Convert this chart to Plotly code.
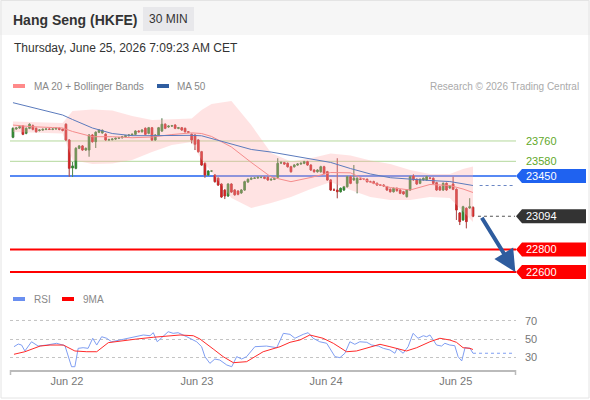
import plotly.graph_objects as go

W, H = 590, 400

# 30 MIN candles (Jun 19 night session -> Jun 25 midday)
opens = [23793, 23866, 23875, 23892, 23828, 23872, 23895, 23872, 23853, 23857,
         23863, 23866, 23863, 23866, 23872, 23863, 23908, 23769, 23521, 23518,
         23695, 23716, 23680, 23680, 23813, 23754, 23837, 23831, 23819, 23769,
         23772, 23777, 23784, 23789, 23798, 23807, 23813, 23819, 23848, 23842,
         23872, 23828, 23877, 23769, 23813, 23848, 23908, 23884, 23892, 23901,
         23872, 23877, 23872, 23842, 23819, 23813, 23769, 23665, 23562, 23459,
         23494, 23459, 23430, 23379, 23326, 23273, 23379, 23326, 23317, 23300,
         23326, 23397, 23421, 23430, 23432, 23438, 23438, 23438, 23415, 23421,
         23438, 23565, 23568, 23562, 23532, 23532, 23547, 23556, 23562, 23577,
         23547, 23503, 23488, 23488, 23532, 23488, 23415, 23326, 23326, 23311,
         23326, 23355, 23444, 23415, 23385, 23423, 23421, 23421, 23400, 23400,
         23385, 23370, 23370, 23355, 23332, 23311, 23341, 23326, 23311, 23267,
         23326, 23450, 23421, 23385, 23415, 23415, 23432, 23430, 23391, 23355,
         23326, 23385, 23344, 23379, 23332, 23123, 23061, 23164, 23167, 23173]
highs = [23880, 23884, 23895, 23900, 23880, 23916, 23905, 23880, 23866, 23870,
         23872, 23874, 23872, 23878, 23878, 23868, 23916, 23775, 23574, 23705,
         23724, 23724, 23702, 23820, 23822, 23845, 23866, 23862, 23828, 23780,
         23784, 23790, 23796, 23805, 23813, 23820, 23826, 23855, 23855, 23864,
         23880, 23884, 23884, 23820, 23884, 23960, 23916, 23900, 23902, 23908,
         23884, 23884, 23878, 23848, 23826, 23820, 23776, 23672, 23570, 23500,
         23503, 23466, 23438, 23386, 23334, 23386, 23386, 23334, 23324, 23334,
         23408, 23428, 23437, 23440, 23446, 23446, 23446, 23446, 23428, 23434,
         23607, 23580, 23575, 23570, 23540, 23555, 23563, 23570, 23584, 23584,
         23554, 23510, 23510, 23540, 23540, 23495, 23422, 23340, 23607, 23348,
         23362, 23452, 23452, 23547, 23438, 23430, 23428, 23428, 23408, 23408,
         23392, 23378, 23378, 23362, 23340, 23348, 23348, 23334, 23318, 23334,
         23452, 23465, 23428, 23428, 23437, 23452, 23440, 23437, 23398, 23362,
         23392, 23392, 23370, 23444, 23340, 23130, 23186, 23172, 23253, 23180]
lows = [23785, 23860, 23868, 23812, 23820, 23865, 23855, 23835, 23845, 23850,
        23856, 23857, 23856, 23860, 23855, 23846, 23760, 23444, 23441, 23510,
        23688, 23672, 23672, 23621, 23745, 23698, 23830, 23825, 23762, 23762,
        23765, 23770, 23777, 23782, 23790, 23800, 23806, 23812, 23835, 23835,
        23812, 23820, 23760, 23762, 23806, 23840, 23865, 23876, 23885, 23865,
        23865, 23850, 23835, 23830, 23739, 23680, 23658, 23540, 23435, 23450,
        23485, 23392, 23362, 23256, 23246, 23266, 23300, 23276, 23280, 23292,
        23318, 23390, 23414, 23424, 23426, 23430, 23422, 23408, 23408, 23414,
        23430, 23556, 23548, 23525, 23480, 23525, 23540, 23550, 23555, 23540,
        23495, 23480, 23480, 23480, 23466, 23408, 23318, 23318, 23253, 23304,
        23318, 23348, 23378, 23408, 23297, 23414, 23414, 23392, 23392, 23378,
        23363, 23362, 23355, 23318, 23304, 23304, 23312, 23290, 23284, 23260,
        23318, 23408, 23372, 23378, 23408, 23408, 23422, 23378, 23318, 23318,
        23318, 23318, 23336, 23325, 23061, 23016, 23054, 22987, 23160, 23086]
closes = [23872, 23875, 23886, 23819, 23872, 23908, 23863, 23842, 23857, 23863,
          23866, 23863, 23866, 23872, 23863, 23854, 23769, 23518, 23539, 23695,
          23716, 23680, 23695, 23813, 23754, 23837, 23857, 23854, 23769, 23772,
          23777, 23784, 23789, 23798, 23807, 23813, 23819, 23848, 23842, 23857,
          23819, 23877, 23769, 23813, 23877, 23908, 23872, 23892, 23895, 23872,
          23877, 23857, 23842, 23837, 23769, 23731, 23665, 23547, 23459, 23494,
          23494, 23400, 23370, 23264, 23273, 23379, 23308, 23284, 23288, 23326,
          23400, 23421, 23430, 23432, 23438, 23438, 23430, 23415, 23421, 23426,
          23562, 23568, 23556, 23532, 23488, 23547, 23556, 23562, 23577, 23547,
          23503, 23488, 23503, 23532, 23474, 23415, 23326, 23326, 23311, 23341,
          23355, 23444, 23385, 23430, 23430, 23421, 23421, 23400, 23400, 23385,
          23370, 23370, 23362, 23326, 23311, 23341, 23320, 23297, 23291, 23326,
          23444, 23415, 23379, 23421, 23430, 23444, 23430, 23385, 23326, 23326,
          23385, 23326, 23362, 23332, 23149, 23046, 23178, 23046, 23178, 23094]

day_labels = ["Jun 22", "Jun 23", "Jun 24", "Jun 25"]
day_pos = [16.3, 55.6, 94.6, 133.8]

# moving averages / bollinger bands, sampled along the candles
ma_idx = [0, 6, 12, 15, 18, 24, 30, 36, 42, 48, 54, 57, 60, 66, 72, 78, 84,
          90, 96, 102, 108, 114, 120, 126, 132, 136, 139]
ma50 = [24099, 24056, 24013, 23990, 23950, 23875, 23826, 23807, 23807, 23810,
        23810, 23806, 23782, 23729, 23685, 23662, 23631, 23606, 23570, 23516,
        23468, 23435, 23420, 23410, 23401, 23384, 23366]
ma20 = [23901, 23886, 23879, 23875, 23844, 23798, 23798, 23789, 23795, 23817,
        23832, 23826, 23800, 23707, 23570, 23441, 23400, 23437, 23481, 23478,
        23394, 23348, 23326, 23375, 23366, 23335, 23304]
bb_up = [23932, 23928, 23923, 23919, 24025, 24039, 24030, 23981, 23946, 23954,
         23959, 24034, 24087, 24114, 23901, 23654, 23578, 23607, 23649, 23631,
         23587, 23556, 23503, 23468, 23468, 23512, 23534]
bb_low = [23839, 23835, 23831, 23826, 23592, 23556, 23561, 23592, 23662, 23724,
          23751, 23592, 23485, 23255, 23167, 23211, 23264, 23335, 23397, 23326,
          23264, 23238, 23238, 23264, 23255, 23131, 23043]

rsi_idx = [0.3, 1.6, 2.6, 3.6, 5.6, 7.6, 10.2, 13.2, 15.7, 16.7, 17.7, 18.7,
           19.7, 21.2, 22.7, 24.1, 25.3, 26.8, 28.3, 29.8, 32.3, 36.3, 39.4,
           41.4, 42.4, 43.6, 45.4, 46.9, 48.4, 49.9, 52.5, 55.5, 57.0, 58.0,
           59.5, 61.0, 62.5, 64.6, 66.1, 67.6, 69.1, 70.6, 73.1, 76.6, 79.7,
           81.7, 83.7, 85.2, 87.7, 89.2, 90.7, 92.7, 94.8, 97.3, 98.8, 100.3,
           101.8, 103.3, 104.8, 106.9, 108.4, 110.4, 111.9, 113.9, 115.4, 116.1,
           117.9, 119.4, 120.9, 122.4, 124.0, 125.0, 126.0, 128.0, 129.5, 130.5,
           132.0, 133.5, 134.5, 135.6, 136.6, 138.1, 139.0]
rsi = [41.6, 44.5, 43.4, 36.9, 47.0, 42.3, 43.4, 45.3, 42.7, 30.7, 19.7, 19.7,
       39.8, 40.5, 39.8, 50.8, 43.4, 52.5, 50.8, 47.0, 48.9, 51.4, 54.4, 53.6,
       56.9, 47.0, 52.5, 58.0, 56.2, 56.9, 52.5, 47.0, 41.6, 30.7, 23.4, 28.1,
       27.0, 21.6, 19.7, 30.7, 28.1, 30.7, 41.6, 42.3, 40.5, 56.2, 55.1, 50.8,
       55.1, 56.9, 50.8, 47.0, 45.3, 30.7, 29.6, 34.4, 47.0, 44.2, 47.0, 46.4,
       43.4, 42.3, 39.8, 38.0, 34.4, 39.8, 34.4, 41.6, 56.2, 50.8, 53.6, 52.5,
       54.4, 43.4, 42.3, 45.3, 43.4, 42.7, 30.7, 26.0, 40.5, 39.8, 34.4]
ma9_idx = [0.3, 3.6, 8.2, 11.2, 15.2, 17.2, 18.7, 22.3, 25.3, 28.8, 32.3, 37.4,
           42.4, 46.4, 50.5, 54.5, 56.5, 60.5, 63.5, 66.6, 70.6, 75.6, 80.7,
           83.7, 86.7, 89.7, 93.7, 96.8, 100.8, 103.8, 107.9, 110.9, 113.9,
           116.9, 118.9, 122.0, 126.0, 129.0, 132.0, 134.0, 136.0, 138.1, 139.0]
ma9 = [33.3, 36.1, 42.3, 43.4, 43.4, 39.8, 36.9, 36.1, 36.1, 46.0, 47.8, 50.0,
       51.9, 53.3, 54.4, 53.6, 50.0, 39.1, 30.7, 24.1, 25.2, 36.1, 41.6, 46.4,
       48.9, 54.4, 50.8, 45.3, 36.1, 36.9, 41.6, 44.2, 41.6, 38.7, 36.9, 40.5,
       47.0, 50.8, 48.9, 46.4, 40.5, 39.8, 38.5]

resistances = [23760, 23580]
pivot = 23450
supports = [22800, 22600]


def px(x):
    return x / W


def py(y):
    return 1 - y / H


X0, X1 = -0.9, 152.0
Y0, Y1 = 22503, 24167
R0, R1 = 16.1, 87.2
n = len(closes)
last = closes[-1]
hh = 7 * (Y1 - Y0) / 188.0   # half height of the price tags

fig = go.Figure()

# bollinger band + MAs
fig.add_trace(go.Scatter(x=ma_idx, y=bb_up, mode='lines', line=dict(width=0),
                         hoverinfo='skip'))
fig.add_trace(go.Scatter(x=ma_idx, y=bb_low, mode='lines', line=dict(width=0),
                         fill='tonexty', fillcolor='rgba(255,170,170,0.33)',
                         hoverinfo='skip'))
fig.add_trace(go.Scatter(x=ma_idx, y=ma20, mode='lines',
                         line=dict(color='#f58c8c', width=1)))
fig.add_trace(go.Scatter(x=ma_idx, y=ma50, mode='lines',
                         line=dict(color='#5b7bbd', width=1)))

# candles: grey wicks underneath, coloured bodies on top
fig.add_trace(go.Candlestick(
    x=list(range(n)), open=opens, high=highs, low=lows, close=closes,
    increasing=dict(line=dict(color='#8c8c8c', width=1), fillcolor='#2f8a2f'),
    decreasing=dict(line=dict(color='#8c8c8c', width=1), fillcolor='#d42424'),
    whiskerwidth=0))
fig.add_trace(go.Candlestick(
    x=list(range(n)), open=opens, high=highs, low=lows, close=closes,
    increasing=dict(line=dict(color='#2f8a2f', width=0.6), fillcolor='#2f8a2f'),
    decreasing=dict(line=dict(color='#d42424', width=0.6), fillcolor='#d42424'),
    whiskerwidth=0))

# RSI panel
fig.add_trace(go.Scatter(x=rsi_idx, y=rsi, mode='lines', xaxis='x2', yaxis='y2',
                         line=dict(color='#7f9ef2', width=1)))
fig.add_trace(go.Scatter(x=ma9_idx, y=ma9, mode='lines', xaxis='x2', yaxis='y2',
                         line=dict(color='#ff2a2a', width=1)))

shapes = []
# header band and frame
shapes.append(dict(type='rect', xref='paper', yref='paper', x0=0, x1=1,
                   y0=py(35), y1=1, fillcolor='#f6f6f6', line_width=0, layer='below'))
shapes.append(dict(type='rect', xref='paper', yref='paper', x0=px(143), x1=px(194),
                   y0=py(31), y1=py(7), fillcolor='#e8e8eb', line_width=0, layer='below'))
shapes.append(dict(type='rect', xref='paper', yref='paper', x0=px(1), x1=px(589),
                   y0=py(398), y1=py(0.5), line=dict(color='#e4e4e4', width=1)))

# level lines
for lv in resistances:
    shapes.append(dict(type='line', xref='x', yref='y', x0=X0, x1=X1, y0=lv, y1=lv,
                       line=dict(color='#b4d89c', width=1), layer='below'))
shapes.append(dict(type='line', xref='x', yref='y', x0=X0, x1=X1, y0=pivot, y1=pivot,
                   line=dict(color='#1f62f0', width=1.3), layer='below'))
for lv in supports:
    shapes.append(dict(type='line', xref='x', yref='y', x0=X0, x1=X1, y0=lv, y1=lv,
                       line=dict(color='#ff0000', width=2)))

# dotted continuations
shapes.append(dict(type='line', xref='x', yref='y', x0=ma_idx[-1] + 2, x1=X1 - 0.3,
                   y0=ma50[-1], y1=ma50[-1], line=dict(color='#6a86c4', width=1.2, dash='dot')))
shapes.append(dict(type='line', xref='x', yref='y', x0=n + 0.5, x1=X1 - 0.3,
                   y0=last, y1=last, line=dict(color='#555555', width=1.2, dash='dot')))
shapes.append(dict(type='line', xref='x2', yref='y2', x0=rsi_idx[-1], x1=X1 - 0.3,
                   y0=rsi[-1], y1=rsi[-1], line=dict(color='#7f9ef2', width=1.2, dash='dot')))

# price tags on the right
tags = [(pivot, '#1f62f0'), (last, '#333333'), (supports[0], '#ff0000'), (supports[1], '#ff0000')]
for val, col in tags:
    path = (f"M {px(516)},{val} L {px(522)},{val + hh} L {px(586)},{val + hh} "
            f"L {px(586)},{val - hh} L {px(522)},{val - hh} Z")
    shapes.append(dict(type='path', xref='paper', yref='y', path=path,
                       fillcolor=col, line_width=0))

# RSI axis end ticks
for xe in (10.5, 515.5):
    shapes.append(dict(type='line', xref='paper', yref='paper', x0=px(xe), x1=px(xe),
                       y0=py(370), y1=py(375), line=dict(color='#bbbbbb', width=1.5)))

# legend swatches
for x0s, y0s, col in [(13, 86, '#ff8a8a'), (157, 86, '#2f5da0'),
                      (13, 299, '#6a8ff0'), (62, 299, '#ff0000')]:
    shapes.append(dict(type='rect', xref='paper', yref='paper', x0=px(x0s), x1=px(x0s + 12),
                       y0=py(y0s + 2), y1=py(y0s - 2), fillcolor=col, line_width=0))

ann = []


def txt(x, y, s, size, color, anchor='left', bold=False):
    ann.append(dict(xref='paper', yref='paper', x=px(x), y=py(y), text=f"<b>{s}</b>" if bold else s,
                    showarrow=False, xanchor=anchor, yanchor='middle',
                    font=dict(size=size, color=color)))


txt(11, 20, "Hang Seng (HKFE)", 14, '#333333', bold=True)
txt(168.5, 19.5, "30 MIN", 12, '#333333', anchor='center')
txt(12, 48.5, "Thursday, June 25, 2026 7:09:23 AM CET", 12, '#333333')
txt(32, 86.5, "MA 20 + Bollinger Bands", 10, '#888888')
txt(175, 86.5, "MA 50", 10, '#888888')
txt(581, 86.5, "Research © 2026 Trading Central", 10, '#aaaaaa', anchor='right')
txt(32, 299.5, "RSI", 10, '#888888')
txt(81, 299.5, "9MA", 10, '#888888')

for lv in resistances:
    ann.append(dict(xref='paper', yref='y', x=px(524), y=lv, text=str(lv), showarrow=False,
                    xanchor='left', yanchor='middle', font=dict(size=11, color='#5fa82a')))
for val, col in tags:
    ann.append(dict(xref='paper', yref='y', x=px(524), y=val, text=str(val), showarrow=False,
                    xanchor='left', yanchor='middle', font=dict(size=11, color='white')))

# target arrow
ann.append(dict(xref='x', yref='y', axref='x', ayref='y', x=n + 11.8, y=supports[1],
                ax=n + 1.4, ay=last, text='', showarrow=True, arrowhead=2,
                arrowsize=1.1, arrowwidth=4, arrowcolor='#2e5c9e'))

fig.update_layout(
    width=W, height=H, margin=dict(l=0, r=0, t=0, b=0),
    paper_bgcolor='white', plot_bgcolor='rgba(0,0,0,0)',
    font=dict(family='Liberation Sans, Arial, sans-serif', color='#777777'),
    showlegend=False, hovermode=False,
    shapes=shapes, annotations=ann,
    xaxis=dict(domain=[px(10), px(516)], range=[X0, X1], visible=False,
               rangeslider=dict(visible=False), anchor='y'),
    yaxis=dict(domain=[py(283), py(95)], range=[Y0, Y1], visible=False, anchor='x'),
    xaxis2=dict(domain=[px(10), px(516)], range=[X0, X1], anchor='y2',
                showline=True, linecolor='#bbbbbb', linewidth=2, showgrid=False,
                zeroline=False, ticks='', tickvals=day_pos, ticktext=day_labels,
                tickfont=dict(size=11, color='#777777')),
    yaxis2=dict(domain=[py(370), py(305)], range=[R0, R1], anchor='x2', side='right',
                tickvals=[30, 50, 70], showgrid=True, gridcolor='#c4c4c4', griddash='dot',
                gridwidth=1, zeroline=False, showline=False, ticks='',
                ticklabelstandoff=8, tickfont=dict(size=11, color='#777777')),
)

fig.write_html("out.html", config=dict(displayModeBar=False),
               post_script="document.body.style.margin='0';")
